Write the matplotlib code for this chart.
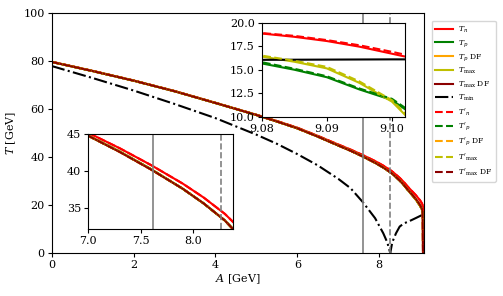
import matplotlib
matplotlib.use('Agg')
import matplotlib.pyplot as plt

plt.rcParams['font.family'] = 'DejaVu Serif'
plt.rcParams['mathtext.fontset'] = 'dejavuserif'

# 共用的 A 网格 (GeV)
A = [0, 1, 2, 3, 4, 5, 5.5, 6, 6.5, 7.0, 7.3, 7.6, 7.9, 8.1, 8.3, 8.4, 8.5, 8.6, 8.7, 8.8,
     8.9, 9.0, 9.04, 9.06, 9.08, 9.085, 9.09, 9.095, 9.1, 9.102]

T_n = [79.7, 75.9, 71.9, 67.5, 62.6, 57.6, 55.0, 52.2, 48.8, 45.2, 43.1, 40.8, 38.3, 36.4, 34.2, 32.8,
       31.3, 29.6, 27.6, 25.8, 24.0, 21.9, 20.8, 20.0, 18.85, 18.5, 18.05, 17.45, 16.7, 16.4]
T_p = [79.6, 75.8, 71.8, 67.4, 62.5, 57.5, 54.8, 51.95, 48.5, 44.8, 42.65, 40.25, 37.6, 35.6, 33.3, 31.8,
       30.2, 28.4, 26.2, 24.2, 22.1, 19.6, 18.2, 17.1, 15.67, 15.0, 14.2, 12.9, 11.77, 10.8]
T_max = [79.6, 75.8, 71.8, 67.4, 62.5, 57.5, 54.8, 51.95, 48.5, 44.8, 42.65, 40.25, 37.6, 35.6, 33.3, 31.8,
         30.2, 28.4, 26.3, 24.4, 22.4, 19.9, 18.5, 17.6, 16.4, 15.85, 15.14, 13.6, 11.6, 10.2]

T_n_pr = [79.7, 75.9, 71.9, 67.5, 62.6, 57.6, 55.0, 52.2, 48.8, 45.2, 43.1, 40.8, 38.3, 36.4, 34.2, 32.8,
          31.3, 29.6, 27.6, 25.8, 24.0, 21.9, 20.8, 20.0, 18.9, 18.6, 18.15, 17.6, 16.9, 16.6]
T_p_pr = [79.6, 75.8, 71.8, 67.4, 62.5, 57.5, 54.8, 51.95, 48.5, 44.8, 42.65, 40.25, 37.6, 35.6, 33.3, 31.8,
          30.2, 28.4, 26.2, 24.2, 22.1, 19.6, 18.2, 17.1, 15.8, 15.1, 14.3, 13.0, 11.9, 10.95]
T_max_pr = [79.6, 75.8, 71.8, 67.4, 62.5, 57.5, 54.8, 51.95, 48.5, 44.8, 42.65, 40.25, 37.6, 35.6, 33.3, 31.8,
            30.2, 28.4, 26.3, 24.4, 22.4, 19.9, 18.5, 17.6, 16.5, 15.95, 15.3, 13.75, 11.75, 10.35]

# DF 曲线在 A≈9.07 处截止
A_DF = [0, 1, 2, 3, 4, 5, 5.5, 6, 6.5, 7.0, 7.3, 7.6, 7.9, 8.1, 8.3, 8.4, 8.5, 8.6, 8.7, 8.8,
        8.9, 9.0, 9.04, 9.06, 9.07]
T_p_DF = [79.6, 75.8, 71.8, 67.4, 62.5, 57.5, 54.8, 51.9, 48.5, 44.8, 42.6, 40.2, 37.6, 35.6, 33.3, 31.8,
          30.2, 28.4, 26.2, 24.2, 22.1, 19.6, 18.2, 17.1, 0.0]
T_max_DF = [79.6, 75.8, 71.8, 67.4, 62.5, 57.5, 54.8, 51.95, 48.5, 44.8, 42.6, 40.2, 37.6, 35.6, 33.3, 31.8,
            30.2, 28.4, 26.3, 24.4, 22.4, 19.9, 18.5, 17.6, 0.0]
T_p_DF_pr = [79.6, 75.8, 71.8, 67.4, 62.5, 57.5, 54.8, 51.9, 48.5, 44.8, 42.6, 40.2, 37.6, 35.6, 33.3, 31.8,
             30.2, 28.4, 26.2, 24.2, 22.1, 19.6, 18.2, 17.1, 0.0]
T_max_DF_pr = [79.6, 75.8, 71.8, 67.4, 62.5, 57.5, 54.8, 51.95, 48.5, 44.8, 42.6, 40.2, 37.6, 35.6, 33.3, 31.8,
               30.2, 28.4, 26.3, 24.4, 22.4, 19.9, 18.5, 17.6, 0.0]

# T_min 单独的网格
A_min = [0, 1, 2, 3, 4, 5, 5.5, 6, 6.5, 7.0, 7.3, 7.6, 7.9, 8.1, 8.2, 8.27, 8.32, 8.41, 8.5, 8.6,
         8.74, 8.9, 9.02, 9.06, 9.08, 9.1, 9.102]
T_min = [77.9, 72.9, 67.7, 62.1, 56.2, 49.3, 45.5, 41.2, 36.5, 30.9, 27.0, 21.2, 14.5, 8.2, 4.3, 0.0,
         4.5, 8.2, 11.0, 12.3, 13.3, 14.6, 15.6, 15.9, 16.05, 16.1, 16.1]

A_vline = [7.615, 8.26]

series = [
    (A, T_n, 'red', '-', r'$T_n$'),
    (A, T_p, 'green', '-', r'$T_p$'),
    (A_DF, T_p_DF, 'orange', '-', r'$T_p$ DF'),
    (A, T_max, 'y', '-', r'$T_{\rm max}$'),
    (A_DF, T_max_DF, 'darkred', '-', r'$T_{\rm max}$ DF'),
    (A_min, T_min, 'k', '-.', r'$T_{\rm min}$'),
    (A, T_n_pr, 'red', '--', r"$T'_n$"),
    (A, T_p_pr, 'green', '--', r"$T'_p$"),
    (A_DF, T_p_DF_pr, 'orange', '--', r"$T'_p$ DF"),
    (A, T_max_pr, 'y', '--', r"$T'_{\rm max}$"),
    (A_DF, T_max_DF_pr, 'darkred', '--', r"$T'_{\rm max}$ DF"),
]


def draw(ax, minstyle='-.'):
    for xs, vals, c, ls, lab in series:
        if ls == '-.':
            ls = minstyle
        ax.plot(xs, vals, color=c, ls=ls, lw=1.5, label=lab)
    ax.axvline(A_vline[0], color='grey', lw=1.2, ls='-')
    ax.axvline(A_vline[1], color='grey', lw=1.2, ls='--')


fig = plt.figure(figsize=(5.03, 2.96), dpi=100)
ax = fig.add_axes([0.1028, 0.1453, 0.7408, 0.8108])
draw(ax)
ax.set_xlim(0, 9.1025)
ax.set_ylim(0, 100)
ax.set_xticks([0, 2, 4, 6, 8])
ax.set_yticks([0, 20, 40, 60, 80, 100])
ax.set_xlabel(r'$A$ [GeV]', fontsize=8, labelpad=2)
ax.set_ylabel(r'$T$ [GeV]', fontsize=8, labelpad=4)
ax.tick_params(labelsize=8, length=3, pad=2)
ax.legend(loc='upper left', bbox_to_anchor=(0.858, 0.93), bbox_transform=fig.transFigure,
          fontsize=5.5, handlelength=2.3, labelspacing=0.42, borderpad=0.5,
          handletextpad=0.6, borderaxespad=0)

# 左下放大图
ax1 = fig.add_axes([0.1755, 0.2253, 0.2871, 0.321])
draw(ax1)
ax1.set_xlim(7.0, 8.375)
ax1.set_ylim(32.1, 45)
ax1.set_xticks([7.0, 7.5, 8.0])
ax1.set_yticks([35, 40, 45])
ax1.tick_params(labelsize=8, length=3, pad=2)

# 右上放大图
ax2 = fig.add_axes([0.5203, 0.6057, 0.2849, 0.3176])
draw(ax2, minstyle='-')
ax2.set_xlim(9.08, 9.102)
ax2.set_ylim(10, 20)
ax2.set_xticks([9.08, 9.09, 9.10])
ax2.set_xticklabels(['9.08', '9.09', '9.10'])
ax2.set_yticks([10, 12.5, 15, 17.5, 20])
ax2.tick_params(labelsize=8, length=3, pad=2)

fig.savefig('out.png', dpi=100)
